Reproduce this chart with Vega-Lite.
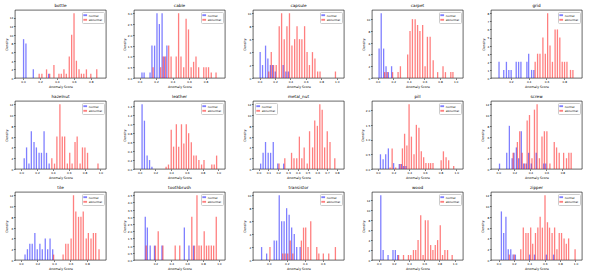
{
"$schema":"https://vega.github.io/schema/vega-lite/v6.json",
"padding":{"left":3,"top":3,"right":2,"bottom":2},
"bounds":"flush",
"columns":5,
"spacing":{"row":23,"column":28},
"resolve":{"scale":{"x":"independent","y":"independent","color":"independent"},"legend":{"color":"independent"}},
"data":{"values":[
{"c":"bottle","g":"normal","x":0.007,"y":9},{"c":"bottle","g":"normal","x":0.035,"y":8},{"c":"bottle","g":"normal","x":0.122,"y":2},{"c":"bottle","g":"normal","x":0.303,"y":1},
{"c":"bottle","g":"abnormal","x":0.191,"y":1},{"c":"bottle","g":"abnormal","x":0.223,"y":1},{"c":"bottle","g":"abnormal","x":0.278,"y":2},{"c":"bottle","g":"abnormal","x":0.315,"y":1},{"c":"bottle","g":"abnormal","x":0.365,"y":3},{"c":"bottle","g":"abnormal","x":0.424,"y":1},{"c":"bottle","g":"abnormal","x":0.452,"y":1},{"c":"bottle","g":"abnormal","x":0.483,"y":2},{"c":"bottle","g":"abnormal","x":0.511,"y":1},{"c":"bottle","g":"abnormal","x":0.546,"y":5},{"c":"bottle","g":"abnormal","x":0.574,"y":10},{"c":"bottle","g":"abnormal","x":0.602,"y":15},{"c":"bottle","g":"abnormal","x":0.630,"y":4},{"c":"bottle","g":"abnormal","x":0.661,"y":2},{"c":"bottle","g":"abnormal","x":0.689,"y":1},{"c":"bottle","g":"abnormal","x":0.717,"y":1},{"c":"bottle","g":"abnormal","x":0.748,"y":2},{"c":"bottle","g":"abnormal","x":0.800,"y":1},{"c":"bottle","g":"abnormal","x":0.870,"y":2},
{"c":"cable","g":"normal","x":0.029,"y":0.25},{"c":"cable","g":"normal","x":0.055,"y":0.25},{"c":"cable","g":"normal","x":0.127,"y":0.25},{"c":"cable","g":"normal","x":0.150,"y":1.5},{"c":"cable","g":"normal","x":0.182,"y":1.5},{"c":"cable","g":"normal","x":0.211,"y":3},{"c":"cable","g":"normal","x":0.240,"y":2.5},{"c":"cable","g":"normal","x":0.273,"y":3},{"c":"cable","g":"normal","x":0.300,"y":1},{"c":"cable","g":"normal","x":0.331,"y":1.5},
{"c":"cable","g":"abnormal","x":0.164,"y":0.5},{"c":"cable","g":"abnormal","x":0.255,"y":0.5},{"c":"cable","g":"abnormal","x":0.287,"y":1},{"c":"cable","g":"abnormal","x":0.316,"y":1},{"c":"cable","g":"abnormal","x":0.353,"y":1.5},{"c":"cable","g":"abnormal","x":0.382,"y":1},{"c":"cable","g":"abnormal","x":0.444,"y":1},{"c":"cable","g":"abnormal","x":0.473,"y":3},{"c":"cable","g":"abnormal","x":0.502,"y":1},{"c":"cable","g":"abnormal","x":0.535,"y":0.5},{"c":"cable","g":"abnormal","x":0.564,"y":2.75},{"c":"cable","g":"abnormal","x":0.593,"y":2.25},{"c":"cable","g":"abnormal","x":0.625,"y":0.5},{"c":"cable","g":"abnormal","x":0.655,"y":0.75},{"c":"cable","g":"abnormal","x":0.684,"y":1},{"c":"cable","g":"abnormal","x":0.716,"y":0.5},{"c":"cable","g":"abnormal","x":0.778,"y":0.5},{"c":"cable","g":"abnormal","x":0.807,"y":0.5},{"c":"cable","g":"abnormal","x":0.836,"y":0.5},{"c":"cable","g":"abnormal","x":0.869,"y":0.25},{"c":"cable","g":"abnormal","x":0.927,"y":0.25},
{"c":"capsule","g":"normal","x":0.008,"y":4},{"c":"capsule","g":"normal","x":0.039,"y":2},{"c":"capsule","g":"normal","x":0.078,"y":5},{"c":"capsule","g":"normal","x":0.108,"y":3},{"c":"capsule","g":"normal","x":0.141,"y":2},{"c":"capsule","g":"normal","x":0.170,"y":2},{"c":"capsule","g":"normal","x":0.204,"y":1},{"c":"capsule","g":"normal","x":0.306,"y":2},{"c":"capsule","g":"normal","x":0.341,"y":1},{"c":"capsule","g":"normal","x":0.373,"y":1},
{"c":"capsule","g":"abnormal","x":0.120,"y":1},{"c":"capsule","g":"abnormal","x":0.152,"y":4},{"c":"capsule","g":"abnormal","x":0.182,"y":2},{"c":"capsule","g":"abnormal","x":0.216,"y":2},{"c":"capsule","g":"abnormal","x":0.255,"y":8},{"c":"capsule","g":"abnormal","x":0.286,"y":10},{"c":"capsule","g":"abnormal","x":0.320,"y":6},{"c":"capsule","g":"abnormal","x":0.355,"y":8},{"c":"capsule","g":"abnormal","x":0.388,"y":10},{"c":"capsule","g":"abnormal","x":0.420,"y":5},{"c":"capsule","g":"abnormal","x":0.455,"y":6},{"c":"capsule","g":"abnormal","x":0.486,"y":8},{"c":"capsule","g":"abnormal","x":0.518,"y":6},{"c":"capsule","g":"abnormal","x":0.549,"y":6},{"c":"capsule","g":"abnormal","x":0.584,"y":8},{"c":"capsule","g":"abnormal","x":0.616,"y":4},{"c":"capsule","g":"abnormal","x":0.647,"y":2},{"c":"capsule","g":"abnormal","x":0.686,"y":4},{"c":"capsule","g":"abnormal","x":0.718,"y":3},{"c":"capsule","g":"abnormal","x":0.753,"y":1},{"c":"capsule","g":"abnormal","x":0.784,"y":1},{"c":"capsule","g":"abnormal","x":0.984,"y":1},
{"c":"carpet","g":"normal","x":0.019,"y":5},{"c":"carpet","g":"normal","x":0.046,"y":11},{"c":"carpet","g":"normal","x":0.077,"y":5},{"c":"carpet","g":"normal","x":0.108,"y":2},{"c":"carpet","g":"normal","x":0.138,"y":1},{"c":"carpet","g":"normal","x":0.179,"y":2},
{"c":"carpet","g":"abnormal","x":0.090,"y":1},{"c":"carpet","g":"abnormal","x":0.123,"y":1},{"c":"carpet","g":"abnormal","x":0.192,"y":1},{"c":"carpet","g":"abnormal","x":0.262,"y":1},{"c":"carpet","g":"abnormal","x":0.292,"y":2},{"c":"carpet","g":"abnormal","x":0.385,"y":4},{"c":"carpet","g":"abnormal","x":0.415,"y":8},{"c":"carpet","g":"abnormal","x":0.446,"y":10},{"c":"carpet","g":"abnormal","x":0.481,"y":10},{"c":"carpet","g":"abnormal","x":0.512,"y":9},{"c":"carpet","g":"abnormal","x":0.542,"y":8},{"c":"carpet","g":"abnormal","x":0.577,"y":9},{"c":"carpet","g":"abnormal","x":0.608,"y":2},{"c":"carpet","g":"abnormal","x":0.638,"y":7},{"c":"carpet","g":"abnormal","x":0.673,"y":7},{"c":"carpet","g":"abnormal","x":0.712,"y":3},{"c":"carpet","g":"abnormal","x":0.769,"y":1},{"c":"carpet","g":"abnormal","x":0.838,"y":2},{"c":"carpet","g":"abnormal","x":0.869,"y":1},{"c":"carpet","g":"abnormal","x":0.938,"y":1},{"c":"carpet","g":"abnormal","x":0.965,"y":1},
{"c":"grid","g":"normal","x":0.067,"y":2},{"c":"grid","g":"normal","x":0.120,"y":1},{"c":"grid","g":"normal","x":0.150,"y":2},{"c":"grid","g":"normal","x":0.177,"y":1},{"c":"grid","g":"normal","x":0.203,"y":1},{"c":"grid","g":"normal","x":0.260,"y":2},{"c":"grid","g":"normal","x":0.287,"y":2},{"c":"grid","g":"normal","x":0.313,"y":2},{"c":"grid","g":"normal","x":0.380,"y":2},{"c":"grid","g":"normal","x":0.400,"y":3},{"c":"grid","g":"normal","x":0.433,"y":1},{"c":"grid","g":"normal","x":0.458,"y":1},
{"c":"grid","g":"abnormal","x":0.473,"y":2},{"c":"grid","g":"abnormal","x":0.500,"y":3},{"c":"grid","g":"abnormal","x":0.527,"y":3},{"c":"grid","g":"abnormal","x":0.560,"y":5},{"c":"grid","g":"abnormal","x":0.587,"y":3},{"c":"grid","g":"abnormal","x":0.613,"y":8},{"c":"grid","g":"abnormal","x":0.640,"y":4},{"c":"grid","g":"abnormal","x":0.667,"y":2},{"c":"grid","g":"abnormal","x":0.697,"y":6},{"c":"grid","g":"abnormal","x":0.723,"y":6},{"c":"grid","g":"abnormal","x":0.750,"y":5},{"c":"grid","g":"abnormal","x":0.777,"y":2},{"c":"grid","g":"abnormal","x":0.803,"y":2},{"c":"grid","g":"abnormal","x":0.830,"y":2},{"c":"grid","g":"abnormal","x":0.870,"y":1},{"c":"grid","g":"abnormal","x":0.897,"y":1},
{"c":"hazelnut","g":"normal","x":0.038,"y":2},{"c":"hazelnut","g":"normal","x":0.068,"y":4},{"c":"hazelnut","g":"normal","x":0.098,"y":1},{"c":"hazelnut","g":"normal","x":0.128,"y":7},{"c":"hazelnut","g":"normal","x":0.162,"y":5},{"c":"hazelnut","g":"normal","x":0.192,"y":4},{"c":"hazelnut","g":"normal","x":0.226,"y":3},{"c":"hazelnut","g":"normal","x":0.256,"y":3},{"c":"hazelnut","g":"normal","x":0.289,"y":7},{"c":"hazelnut","g":"normal","x":0.320,"y":3},{"c":"hazelnut","g":"normal","x":0.353,"y":1},
{"c":"hazelnut","g":"abnormal","x":0.387,"y":2},{"c":"hazelnut","g":"abnormal","x":0.421,"y":1},{"c":"hazelnut","g":"abnormal","x":0.451,"y":6},{"c":"hazelnut","g":"abnormal","x":0.489,"y":12},{"c":"hazelnut","g":"abnormal","x":0.519,"y":6},{"c":"hazelnut","g":"abnormal","x":0.549,"y":6},{"c":"hazelnut","g":"abnormal","x":0.583,"y":1},{"c":"hazelnut","g":"abnormal","x":0.613,"y":3},{"c":"hazelnut","g":"abnormal","x":0.643,"y":1},{"c":"hazelnut","g":"abnormal","x":0.680,"y":5},{"c":"hazelnut","g":"abnormal","x":0.707,"y":6},{"c":"hazelnut","g":"abnormal","x":0.744,"y":1},{"c":"hazelnut","g":"abnormal","x":0.774,"y":4},{"c":"hazelnut","g":"abnormal","x":0.805,"y":4},{"c":"hazelnut","g":"abnormal","x":0.838,"y":3},{"c":"hazelnut","g":"abnormal","x":0.970,"y":1},
{"c":"leather","g":"normal","x":0.031,"y":1.45},{"c":"leather","g":"normal","x":0.061,"y":1.08},{"c":"leather","g":"normal","x":0.095,"y":0.3},{"c":"leather","g":"normal","x":0.126,"y":0.2},{"c":"leather","g":"normal","x":0.156,"y":0.05},
{"c":"leather","g":"abnormal","x":0.336,"y":0.05},{"c":"leather","g":"abnormal","x":0.366,"y":0.1},{"c":"leather","g":"abnormal","x":0.401,"y":0.88},{"c":"leather","g":"abnormal","x":0.431,"y":0.5},{"c":"leather","g":"abnormal","x":0.466,"y":1.0},{"c":"leather","g":"abnormal","x":0.496,"y":0.5},{"c":"leather","g":"abnormal","x":0.531,"y":1.0},{"c":"leather","g":"abnormal","x":0.561,"y":0.57},{"c":"leather","g":"abnormal","x":0.592,"y":1.0},{"c":"leather","g":"abnormal","x":0.622,"y":0.8},{"c":"leather","g":"abnormal","x":0.656,"y":0.6},{"c":"leather","g":"abnormal","x":0.687,"y":0.3},{"c":"leather","g":"abnormal","x":0.718,"y":0.3},{"c":"leather","g":"abnormal","x":0.752,"y":0.2},{"c":"leather","g":"abnormal","x":0.786,"y":0.1},{"c":"leather","g":"abnormal","x":0.817,"y":0.2},{"c":"leather","g":"abnormal","x":0.916,"y":0.1},{"c":"leather","g":"abnormal","x":0.947,"y":0.1},{"c":"leather","g":"abnormal","x":0.977,"y":0.3},
{"c":"metal_nut","g":"normal","x":0.021,"y":1},{"c":"metal_nut","g":"normal","x":0.046,"y":3},{"c":"metal_nut","g":"normal","x":0.071,"y":5},{"c":"metal_nut","g":"normal","x":0.098,"y":3},{"c":"metal_nut","g":"normal","x":0.123,"y":3},{"c":"metal_nut","g":"normal","x":0.150,"y":5},{"c":"metal_nut","g":"normal","x":0.196,"y":1},{"c":"metal_nut","g":"normal","x":0.256,"y":1},
{"c":"metal_nut","g":"abnormal","x":0.209,"y":1},{"c":"metal_nut","g":"abnormal","x":0.268,"y":2},{"c":"metal_nut","g":"abnormal","x":0.337,"y":3},{"c":"metal_nut","g":"abnormal","x":0.362,"y":2},{"c":"metal_nut","g":"abnormal","x":0.390,"y":2},{"c":"metal_nut","g":"abnormal","x":0.417,"y":6},{"c":"metal_nut","g":"abnormal","x":0.442,"y":2},{"c":"metal_nut","g":"abnormal","x":0.466,"y":4},{"c":"metal_nut","g":"abnormal","x":0.497,"y":1},{"c":"metal_nut","g":"abnormal","x":0.521,"y":7},{"c":"metal_nut","g":"abnormal","x":0.552,"y":4},{"c":"metal_nut","g":"abnormal","x":0.574,"y":9},{"c":"metal_nut","g":"abnormal","x":0.601,"y":8},{"c":"metal_nut","g":"abnormal","x":0.626,"y":12},{"c":"metal_nut","g":"abnormal","x":0.650,"y":11},{"c":"metal_nut","g":"abnormal","x":0.675,"y":4},{"c":"metal_nut","g":"abnormal","x":0.702,"y":7},{"c":"metal_nut","g":"abnormal","x":0.730,"y":5},{"c":"metal_nut","g":"abnormal","x":0.779,"y":2},
{"c":"pill","g":"normal","x":0.033,"y":0.5},{"c":"pill","g":"normal","x":0.067,"y":0.33},{"c":"pill","g":"normal","x":0.100,"y":0.5},{"c":"pill","g":"normal","x":0.134,"y":0.7},{"c":"pill","g":"normal","x":0.201,"y":0.2},{"c":"pill","g":"normal","x":0.273,"y":0.17},{"c":"pill","g":"normal","x":0.301,"y":0.17},{"c":"pill","g":"normal","x":0.329,"y":0.1},{"c":"pill","g":"normal","x":0.358,"y":0.1},
{"c":"pill","g":"abnormal","x":0.156,"y":0.05},{"c":"pill","g":"abnormal","x":0.182,"y":0.7},{"c":"pill","g":"abnormal","x":0.227,"y":0.05},{"c":"pill","g":"abnormal","x":0.285,"y":0.17},{"c":"pill","g":"abnormal","x":0.313,"y":0.7},{"c":"pill","g":"abnormal","x":0.341,"y":1.2},{"c":"pill","g":"abnormal","x":0.370,"y":0.8},{"c":"pill","g":"abnormal","x":0.398,"y":2.2},{"c":"pill","g":"abnormal","x":0.428,"y":1.1},{"c":"pill","g":"abnormal","x":0.461,"y":0.5},{"c":"pill","g":"abnormal","x":0.491,"y":1.5},{"c":"pill","g":"abnormal","x":0.524,"y":1.4},{"c":"pill","g":"abnormal","x":0.554,"y":0.6},{"c":"pill","g":"abnormal","x":0.584,"y":0.4},{"c":"pill","g":"abnormal","x":0.613,"y":0.2},{"c":"pill","g":"abnormal","x":0.647,"y":0.2},{"c":"pill","g":"abnormal","x":0.673,"y":0.2},{"c":"pill","g":"abnormal","x":0.703,"y":0.2},{"c":"pill","g":"abnormal","x":0.807,"y":0.3},{"c":"pill","g":"abnormal","x":0.836,"y":0.6},{"c":"pill","g":"abnormal","x":0.870,"y":0.4},{"c":"pill","g":"abnormal","x":0.903,"y":0.3},{"c":"pill","g":"abnormal","x":0.967,"y":0.1},
{"c":"screw","g":"normal","x":0.015,"y":1},{"c":"screw","g":"normal","x":0.105,"y":3},{"c":"screw","g":"normal","x":0.138,"y":8},{"c":"screw","g":"normal","x":0.172,"y":2},{"c":"screw","g":"normal","x":0.196,"y":3},{"c":"screw","g":"normal","x":0.225,"y":4},{"c":"screw","g":"normal","x":0.254,"y":2},{"c":"screw","g":"normal","x":0.287,"y":7},{"c":"screw","g":"normal","x":0.316,"y":1},{"c":"screw","g":"normal","x":0.349,"y":1},{"c":"screw","g":"normal","x":0.378,"y":3},{"c":"screw","g":"normal","x":0.411,"y":1},{"c":"screw","g":"normal","x":0.473,"y":3},{"c":"screw","g":"normal","x":0.567,"y":1},{"c":"screw","g":"normal","x":0.592,"y":1},
{"c":"screw","g":"abnormal","x":0.185,"y":3},{"c":"screw","g":"abnormal","x":0.238,"y":5},{"c":"screw","g":"abnormal","x":0.267,"y":7},{"c":"screw","g":"abnormal","x":0.298,"y":3},{"c":"screw","g":"abnormal","x":0.329,"y":1},{"c":"screw","g":"abnormal","x":0.360,"y":9},{"c":"screw","g":"abnormal","x":0.389,"y":10},{"c":"screw","g":"abnormal","x":0.420,"y":2},{"c":"screw","g":"abnormal","x":0.451,"y":11},{"c":"screw","g":"abnormal","x":0.484,"y":12},{"c":"screw","g":"abnormal","x":0.513,"y":2},{"c":"screw","g":"abnormal","x":0.545,"y":6},{"c":"screw","g":"abnormal","x":0.575,"y":7},{"c":"screw","g":"abnormal","x":0.606,"y":7},{"c":"screw","g":"abnormal","x":0.644,"y":1},{"c":"screw","g":"abnormal","x":0.698,"y":5},{"c":"screw","g":"abnormal","x":0.727,"y":4},{"c":"screw","g":"abnormal","x":0.760,"y":3},{"c":"screw","g":"abnormal","x":0.815,"y":3},{"c":"screw","g":"abnormal","x":0.851,"y":2},{"c":"screw","g":"abnormal","x":0.880,"y":3},{"c":"screw","g":"abnormal","x":0.909,"y":3},
{"c":"tile","g":"normal","x":0.050,"y":1},{"c":"tile","g":"normal","x":0.079,"y":2},{"c":"tile","g":"normal","x":0.108,"y":3},{"c":"tile","g":"normal","x":0.137,"y":3},{"c":"tile","g":"normal","x":0.169,"y":5},{"c":"tile","g":"normal","x":0.198,"y":2},{"c":"tile","g":"normal","x":0.230,"y":3},{"c":"tile","g":"normal","x":0.259,"y":2},{"c":"tile","g":"normal","x":0.295,"y":4},{"c":"tile","g":"normal","x":0.324,"y":2},{"c":"tile","g":"normal","x":0.353,"y":4},{"c":"tile","g":"normal","x":0.385,"y":2},
{"c":"tile","g":"abnormal","x":0.396,"y":1},{"c":"tile","g":"abnormal","x":0.511,"y":1},{"c":"tile","g":"abnormal","x":0.543,"y":3},{"c":"tile","g":"abnormal","x":0.572,"y":3},{"c":"tile","g":"abnormal","x":0.608,"y":4},{"c":"tile","g":"abnormal","x":0.637,"y":12},{"c":"tile","g":"abnormal","x":0.665,"y":9},{"c":"tile","g":"abnormal","x":0.698,"y":8},{"c":"tile","g":"abnormal","x":0.727,"y":8},{"c":"tile","g":"abnormal","x":0.755,"y":9},{"c":"tile","g":"abnormal","x":0.791,"y":4},{"c":"tile","g":"abnormal","x":0.817,"y":5},{"c":"tile","g":"abnormal","x":0.849,"y":4},{"c":"tile","g":"abnormal","x":0.878,"y":5},{"c":"tile","g":"abnormal","x":0.906,"y":5},{"c":"tile","g":"abnormal","x":0.946,"y":2},
{"c":"toothbrush","g":"normal","x":0.073,"y":3},{"c":"toothbrush","g":"normal","x":0.099,"y":2.25},{"c":"toothbrush","g":"normal","x":0.135,"y":1},{"c":"toothbrush","g":"normal","x":0.189,"y":1},{"c":"toothbrush","g":"normal","x":0.283,"y":1},{"c":"toothbrush","g":"normal","x":0.565,"y":2.25},{"c":"toothbrush","g":"normal","x":0.623,"y":1},{"c":"toothbrush","g":"normal","x":0.681,"y":1},
{"c":"toothbrush","g":"abnormal","x":0.085,"y":1},{"c":"toothbrush","g":"abnormal","x":0.201,"y":1},{"c":"toothbrush","g":"abnormal","x":0.236,"y":2},{"c":"toothbrush","g":"abnormal","x":0.295,"y":1},{"c":"toothbrush","g":"abnormal","x":0.450,"y":1},{"c":"toothbrush","g":"abnormal","x":0.507,"y":1},{"c":"toothbrush","g":"abnormal","x":0.659,"y":3},{"c":"toothbrush","g":"abnormal","x":0.693,"y":1},{"c":"toothbrush","g":"abnormal","x":0.724,"y":4.5},{"c":"toothbrush","g":"abnormal","x":0.750,"y":1},{"c":"toothbrush","g":"abnormal","x":0.779,"y":1},{"c":"toothbrush","g":"abnormal","x":0.815,"y":2},{"c":"toothbrush","g":"abnormal","x":0.844,"y":1},{"c":"toothbrush","g":"abnormal","x":0.873,"y":1},{"c":"toothbrush","g":"abnormal","x":0.905,"y":1},{"c":"toothbrush","g":"abnormal","x":0.934,"y":1},{"c":"toothbrush","g":"abnormal","x":0.967,"y":3},
{"c":"transistor","g":"normal","x":-0.080,"y":2},{"c":"transistor","g":"normal","x":-0.024,"y":1},{"c":"transistor","g":"normal","x":0.060,"y":3},{"c":"transistor","g":"normal","x":0.086,"y":3},{"c":"transistor","g":"normal","x":0.116,"y":10},{"c":"transistor","g":"normal","x":0.143,"y":6},{"c":"transistor","g":"normal","x":0.170,"y":6},{"c":"transistor","g":"normal","x":0.198,"y":8},{"c":"transistor","g":"normal","x":0.226,"y":7},{"c":"transistor","g":"normal","x":0.254,"y":5},{"c":"transistor","g":"normal","x":0.283,"y":4},{"c":"transistor","g":"normal","x":0.310,"y":2},{"c":"transistor","g":"normal","x":0.348,"y":2},
{"c":"transistor","g":"abnormal","x":0.013,"y":2},{"c":"transistor","g":"abnormal","x":0.155,"y":1},{"c":"transistor","g":"abnormal","x":0.182,"y":1},{"c":"transistor","g":"abnormal","x":0.210,"y":1},{"c":"transistor","g":"abnormal","x":0.238,"y":3},{"c":"transistor","g":"abnormal","x":0.267,"y":1},{"c":"transistor","g":"abnormal","x":0.362,"y":3},{"c":"transistor","g":"abnormal","x":0.386,"y":5},{"c":"transistor","g":"abnormal","x":0.410,"y":5},{"c":"transistor","g":"abnormal","x":0.436,"y":2},{"c":"transistor","g":"abnormal","x":0.466,"y":6},{"c":"transistor","g":"abnormal","x":0.533,"y":2},{"c":"transistor","g":"abnormal","x":0.556,"y":1},{"c":"transistor","g":"abnormal","x":0.606,"y":1},{"c":"transistor","g":"abnormal","x":0.666,"y":1},{"c":"transistor","g":"abnormal","x":0.740,"y":2},
{"c":"wood","g":"normal","x":0.027,"y":13},{"c":"wood","g":"normal","x":0.058,"y":2},{"c":"wood","g":"normal","x":0.123,"y":1},{"c":"wood","g":"normal","x":0.188,"y":2},{"c":"wood","g":"normal","x":0.219,"y":2},{"c":"wood","g":"normal","x":0.250,"y":1},
{"c":"wood","g":"abnormal","x":0.262,"y":1},{"c":"wood","g":"abnormal","x":0.327,"y":1},{"c":"wood","g":"abnormal","x":0.392,"y":1},{"c":"wood","g":"abnormal","x":0.423,"y":1},{"c":"wood","g":"abnormal","x":0.458,"y":2},{"c":"wood","g":"abnormal","x":0.488,"y":2},{"c":"wood","g":"abnormal","x":0.519,"y":4},{"c":"wood","g":"abnormal","x":0.554,"y":9},{"c":"wood","g":"abnormal","x":0.585,"y":1},{"c":"wood","g":"abnormal","x":0.615,"y":8},{"c":"wood","g":"abnormal","x":0.650,"y":8},{"c":"wood","g":"abnormal","x":0.685,"y":3},{"c":"wood","g":"abnormal","x":0.715,"y":2},{"c":"wood","g":"abnormal","x":0.746,"y":3},{"c":"wood","g":"abnormal","x":0.777,"y":4},{"c":"wood","g":"abnormal","x":0.812,"y":7},{"c":"wood","g":"abnormal","x":0.842,"y":1},{"c":"wood","g":"abnormal","x":0.873,"y":2},{"c":"wood","g":"abnormal","x":0.908,"y":2},{"c":"wood","g":"abnormal","x":0.969,"y":1},
{"c":"zipper","g":"normal","x":0.037,"y":9},{"c":"zipper","g":"normal","x":0.067,"y":5},{"c":"zipper","g":"normal","x":0.096,"y":8},{"c":"zipper","g":"normal","x":0.126,"y":2},{"c":"zipper","g":"normal","x":0.159,"y":2},{"c":"zipper","g":"normal","x":0.189,"y":1},{"c":"zipper","g":"normal","x":0.219,"y":1},{"c":"zipper","g":"normal","x":0.404,"y":1},{"c":"zipper","g":"normal","x":0.467,"y":1},{"c":"zipper","g":"normal","x":0.622,"y":1},{"c":"zipper","g":"normal","x":0.716,"y":1},
{"c":"zipper","g":"abnormal","x":0.141,"y":1},{"c":"zipper","g":"abnormal","x":0.204,"y":1},{"c":"zipper","g":"abnormal","x":0.289,"y":2},{"c":"zipper","g":"abnormal","x":0.322,"y":6},{"c":"zipper","g":"abnormal","x":0.356,"y":5},{"c":"zipper","g":"abnormal","x":0.385,"y":5},{"c":"zipper","g":"abnormal","x":0.418,"y":6},{"c":"zipper","g":"abnormal","x":0.444,"y":3},{"c":"zipper","g":"abnormal","x":0.480,"y":5},{"c":"zipper","g":"abnormal","x":0.511,"y":6},{"c":"zipper","g":"abnormal","x":0.541,"y":8},{"c":"zipper","g":"abnormal","x":0.570,"y":6},{"c":"zipper","g":"abnormal","x":0.604,"y":12},{"c":"zipper","g":"abnormal","x":0.636,"y":7},{"c":"zipper","g":"abnormal","x":0.663,"y":6},{"c":"zipper","g":"abnormal","x":0.696,"y":5},{"c":"zipper","g":"abnormal","x":0.729,"y":6},{"c":"zipper","g":"abnormal","x":0.759,"y":2},{"c":"zipper","g":"abnormal","x":0.789,"y":5},{"c":"zipper","g":"abnormal","x":0.819,"y":5},{"c":"zipper","g":"abnormal","x":0.852,"y":4},{"c":"zipper","g":"abnormal","x":0.881,"y":3},{"c":"zipper","g":"abnormal","x":0.911,"y":4},{"c":"zipper","g":"abnormal","x":0.995,"y":2}
]},
"concat":[
{"title":"bottle","width":91,"height":68,"transform":[{"filter":"datum.c==='bottle'"}],"mark":{"type":"bar","size":1.3,"opacity":0.5,"clip":true},"encoding":{"x":{"field":"x","type":"quantitative","title":"Anomaly Score","scale":{"domain":[-0.035,0.92],"nice":false,"zero":false},"axis":{"values":[0,0.2,0.4,0.6,0.8],"format":".1f"}},"y":{"field":"y","type":"quantitative","title":"Density","stack":null,"scale":{"domain":[0,15.75],"nice":false},"axis":{"values":[0,2,4,6,8,10,12,14],"format":"d"}},"color":{"field":"g","type":"nominal","scale":{"domain":["normal","abnormal"],"range":["#0000ff","#ff0000"]},"legend":{"title":null,"orient":"top-right"}}}},
{"title":"cable","width":91,"height":68,"transform":[{"filter":"datum.c==='cable'"}],"mark":{"type":"bar","size":1.3,"opacity":0.5,"clip":true},"encoding":{"x":{"field":"x","type":"quantitative","title":"Anomaly Score","scale":{"domain":[-0.007,0.975],"nice":false,"zero":false},"axis":{"values":[0,0.2,0.4,0.6,0.8],"format":".1f"}},"y":{"field":"y","type":"quantitative","title":"Density","stack":null,"scale":{"domain":[0,3.15],"nice":false},"axis":{"values":[0,0.5,1,1.5,2,2.5,3],"format":".1f"}},"color":{"field":"g","type":"nominal","scale":{"domain":["normal","abnormal"],"range":["#0000ff","#ff0000"]},"legend":{"title":null,"orient":"top-right"}}}},
{"title":"capsule","width":91,"height":68,"transform":[{"filter":"datum.c==='capsule'"}],"mark":{"type":"bar","size":1.3,"opacity":0.5,"clip":true},"encoding":{"x":{"field":"x","type":"quantitative","title":"Anomaly Score","scale":{"domain":[-0.02,1.03],"nice":false,"zero":false},"axis":{"values":[0,0.2,0.4,0.6,0.8,1.0],"format":".1f"}},"y":{"field":"y","type":"quantitative","title":"Density","stack":null,"scale":{"domain":[0,10.5],"nice":false},"axis":{"values":[0,2,4,6,8,10],"format":"d"}},"color":{"field":"g","type":"nominal","scale":{"domain":["normal","abnormal"],"range":["#0000ff","#ff0000"]},"legend":{"title":null,"orient":"top-right"}}}},
{"title":"carpet","width":91,"height":68,"transform":[{"filter":"datum.c==='carpet'"}],"mark":{"type":"bar","size":1.3,"opacity":0.5,"clip":true},"encoding":{"x":{"field":"x","type":"quantitative","title":"Anomaly Score","scale":{"domain":[-0.008,1.03],"nice":false,"zero":false},"axis":{"values":[0,0.2,0.4,0.6,0.8,1.0],"format":".1f"}},"y":{"field":"y","type":"quantitative","title":"Density","stack":null,"scale":{"domain":[0,11.55],"nice":false},"axis":{"values":[0,2,4,6,8,10],"format":"d"}},"color":{"field":"g","type":"nominal","scale":{"domain":["normal","abnormal"],"range":["#0000ff","#ff0000"]},"legend":{"title":null,"orient":"top-right"}}}},
{"title":"grid","width":91,"height":68,"transform":[{"filter":"datum.c==='grid'"}],"mark":{"type":"bar","size":1.3,"opacity":0.5,"clip":true},"encoding":{"x":{"field":"x","type":"quantitative","title":"Anomaly Score","scale":{"domain":[0.033,0.943],"nice":false,"zero":false},"axis":{"values":[0.2,0.4,0.6,0.8],"format":".1f"}},"y":{"field":"y","type":"quantitative","title":"Density","stack":null,"scale":{"domain":[0,8.4],"nice":false},"axis":{"values":[0,1,2,3,4,5,6,7,8],"format":"d"}},"color":{"field":"g","type":"nominal","scale":{"domain":["normal","abnormal"],"range":["#0000ff","#ff0000"]},"legend":{"title":null,"orient":"top-right"}}}},
{"title":"hazelnut","width":91,"height":68,"transform":[{"filter":"datum.c==='hazelnut'"}],"mark":{"type":"bar","size":1.3,"opacity":0.5,"clip":true},"encoding":{"x":{"field":"x","type":"quantitative","title":"Anomaly Score","scale":{"domain":[-0.015,1.008],"nice":false,"zero":false},"axis":{"values":[0,0.2,0.4,0.6,0.8,1.0],"format":".1f"}},"y":{"field":"y","type":"quantitative","title":"Density","stack":null,"scale":{"domain":[0,12.6],"nice":false},"axis":{"values":[0,2,4,6,8,10,12],"format":"d"}},"color":{"field":"g","type":"nominal","scale":{"domain":["normal","abnormal"],"range":["#0000ff","#ff0000"]},"legend":{"title":null,"orient":"top-right"}}}},
{"title":"leather","width":91,"height":68,"transform":[{"filter":"datum.c==='leather'"}],"mark":{"type":"bar","size":1.3,"opacity":0.5,"clip":true},"encoding":{"x":{"field":"x","type":"quantitative","title":"Anomaly Score","scale":{"domain":[-0.008,1.02],"nice":false,"zero":false},"axis":{"values":[0,0.2,0.4,0.6,0.8,1.0],"format":".1f"}},"y":{"field":"y","type":"quantitative","title":"Density","stack":null,"scale":{"domain":[0,1.52],"nice":false},"axis":{"values":[0,0.2,0.4,0.6,0.8,1.0,1.2,1.4],"format":".1f"}},"color":{"field":"g","type":"nominal","scale":{"domain":["normal","abnormal"],"range":["#0000ff","#ff0000"]},"legend":{"title":null,"orient":"top-right"}}}},
{"title":"metal_nut","width":91,"height":68,"transform":[{"filter":"datum.c==='metal_nut'"}],"mark":{"type":"bar","size":1.3,"opacity":0.5,"clip":true},"encoding":{"x":{"field":"x","type":"quantitative","title":"Anomaly Score","scale":{"domain":[-0.006,0.822],"nice":false,"zero":false},"axis":{"values":[0,0.1,0.2,0.3,0.4,0.5,0.6,0.7,0.8],"format":".1f"}},"y":{"field":"y","type":"quantitative","title":"Density","stack":null,"scale":{"domain":[0,12.6],"nice":false},"axis":{"values":[0,2,4,6,8,10,12],"format":"d"}},"color":{"field":"g","type":"nominal","scale":{"domain":["normal","abnormal"],"range":["#0000ff","#ff0000"]},"legend":{"title":null,"orient":"top-left"}}}},
{"title":"pill","width":91,"height":68,"transform":[{"filter":"datum.c==='pill'"}],"mark":{"type":"bar","size":1.3,"opacity":0.5,"clip":true},"encoding":{"x":{"field":"x","type":"quantitative","title":"Anomaly Score","scale":{"domain":[-0.011,1.022],"nice":false,"zero":false},"axis":{"values":[0,0.2,0.4,0.6,0.8,1.0],"format":".1f"}},"y":{"field":"y","type":"quantitative","title":"Density","stack":null,"scale":{"domain":[0,2.31],"nice":false},"axis":{"values":[0,0.5,1,1.5,2],"format":".1f"}},"color":{"field":"g","type":"nominal","scale":{"domain":["normal","abnormal"],"range":["#0000ff","#ff0000"]},"legend":{"title":null,"orient":"top-right"}}}},
{"title":"screw","width":91,"height":68,"transform":[{"filter":"datum.c==='screw'"}],"mark":{"type":"bar","size":1.3,"opacity":0.5,"clip":true},"encoding":{"x":{"field":"x","type":"quantitative","title":"Anomaly Score","scale":{"domain":[-0.029,0.982],"nice":false,"zero":false},"axis":{"values":[0,0.2,0.4,0.6,0.8],"format":".1f"}},"y":{"field":"y","type":"quantitative","title":"Density","stack":null,"scale":{"domain":[0,12.6],"nice":false},"axis":{"values":[0,2,4,6,8,10,12],"format":"d"}},"color":{"field":"g","type":"nominal","scale":{"domain":["normal","abnormal"],"range":["#0000ff","#ff0000"]},"legend":{"title":null,"orient":"top-right"}}}},
{"title":"tile","width":91,"height":68,"transform":[{"filter":"datum.c==='tile'"}],"mark":{"type":"bar","size":1.3,"opacity":0.5,"clip":true},"encoding":{"x":{"field":"x","type":"quantitative","title":"Anomaly Score","scale":{"domain":[-0.011,0.97],"nice":false,"zero":false},"axis":{"values":[0,0.2,0.4,0.6,0.8],"format":".1f"}},"y":{"field":"y","type":"quantitative","title":"Density","stack":null,"scale":{"domain":[0,12.6],"nice":false},"axis":{"values":[0,2,4,6,8,10,12],"format":"d"}},"color":{"field":"g","type":"nominal","scale":{"domain":["normal","abnormal"],"range":["#0000ff","#ff0000"]},"legend":{"title":null,"orient":"top-right"}}}},
{"title":"toothbrush","width":91,"height":68,"transform":[{"filter":"datum.c==='toothbrush'"}],"mark":{"type":"bar","size":1.3,"opacity":0.5,"clip":true},"encoding":{"x":{"field":"x","type":"quantitative","title":"Anomaly Score","scale":{"domain":[-0.006,1.014],"nice":false,"zero":false},"axis":{"values":[0.2,0.4,0.6,0.8,1.0],"format":".1f"}},"y":{"field":"y","type":"quantitative","title":"Density","stack":null,"scale":{"domain":[0,4.725],"nice":false},"axis":{"values":[0,0.5,1,1.5,2,2.5,3,3.5,4,4.5],"format":".1f"}},"color":{"field":"g","type":"nominal","scale":{"domain":["normal","abnormal"],"range":["#0000ff","#ff0000"]},"legend":{"title":null,"orient":"top-right"}}}},
{"title":"transistor","width":91,"height":68,"transform":[{"filter":"datum.c==='transistor'"}],"mark":{"type":"bar","size":1.3,"opacity":0.5,"clip":true},"encoding":{"x":{"field":"x","type":"quantitative","title":"Anomaly Score","scale":{"domain":[-0.12,0.78],"nice":false,"zero":false},"axis":{"values":[0,0.2,0.4,0.6],"format":".1f"}},"y":{"field":"y","type":"quantitative","title":"Density","stack":null,"scale":{"domain":[0,10.5],"nice":false},"axis":{"values":[0,2,4,6,8,10],"format":"d"}},"color":{"field":"g","type":"nominal","scale":{"domain":["normal","abnormal"],"range":["#0000ff","#ff0000"]},"legend":{"title":null,"orient":"top-right"}}}},
{"title":"wood","width":91,"height":68,"transform":[{"filter":"datum.c==='wood'"}],"mark":{"type":"bar","size":1.3,"opacity":0.5,"clip":true},"encoding":{"x":{"field":"x","type":"quantitative","title":"Anomaly Score","scale":{"domain":[-0.023,1.046],"nice":false,"zero":false},"axis":{"values":[0,0.2,0.4,0.6,0.8,1.0],"format":".1f"}},"y":{"field":"y","type":"quantitative","title":"Density","stack":null,"scale":{"domain":[0,13.65],"nice":false},"axis":{"values":[0,2,4,6,8,10,12],"format":"d"}},"color":{"field":"g","type":"nominal","scale":{"domain":["normal","abnormal"],"range":["#0000ff","#ff0000"]},"legend":{"title":null,"orient":"top-right"}}}},
{"title":"zipper","width":91,"height":68,"transform":[{"filter":"datum.c==='zipper'"}],"mark":{"type":"bar","size":1.3,"opacity":0.5,"clip":true},"encoding":{"x":{"field":"x","type":"quantitative","title":"Anomaly Score","scale":{"domain":[-0.033,1.02],"nice":false,"zero":false},"axis":{"values":[0,0.2,0.4,0.6,0.8,1.0],"format":".1f"}},"y":{"field":"y","type":"quantitative","title":"Density","stack":null,"scale":{"domain":[0,12.6],"nice":false},"axis":{"values":[0,2,4,6,8,10,12],"format":"d"}},"color":{"field":"g","type":"nominal","scale":{"domain":["normal","abnormal"],"range":["#0000ff","#ff0000"]},"legend":{"title":null,"orient":"top-right"}}}}
],
"config":{
"font":"DejaVu Sans",
"background":"#ffffff",
"view":{"stroke":"#000000","strokeWidth":0.6},
"axis":{"domain":false,"grid":false,"tickSize":1.5,"tickWidth":0.5,"tickColor":"#000000","labelFontSize":2.8,"labelColor":"#000000","labelPadding":0.8,"titleFontSize":3.2,"titleFontWeight":"normal","titlePadding":1,"titleColor":"#000000"},
"title":{"fontSize":4.2,"fontWeight":"normal","offset":2,"color":"#000000"},
"legend":{"labelFontSize":2.8,"labelColor":"#000000","symbolType":"M-1,-0.5H1V0.5H-1Z","symbolSize":14,"symbolStrokeWidth":0,"strokeColor":"#cccccc","fillColor":"#ffffff","padding":1.2,"cornerRadius":0.8,"offset":2,"rowPadding":0.6,"labelOffset":1.5}
}
}
